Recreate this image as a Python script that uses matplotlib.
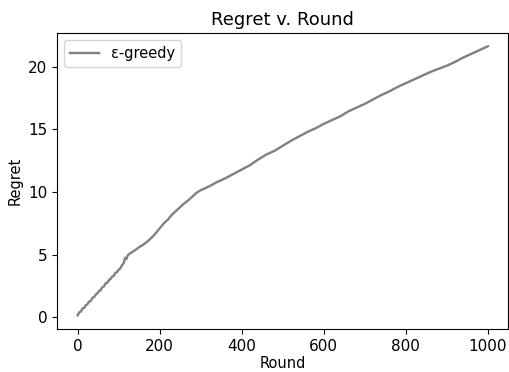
import matplotlib
matplotlib.use('Agg')
import matplotlib.pyplot as plt

rounds = [0, 4, 8, 12, 16, 20, 24, 28, 32, 36, 40, 44, 48, 52, 56, 60, 64, 68, 72, 76,
          80, 84, 88, 92, 96, 100, 104, 108, 112, 116, 119, 122, 130, 140, 150, 160, 170, 180, 190, 200, 210, 220,
          230, 240, 250, 260, 270, 280, 290, 300, 310, 320, 340, 360, 380, 400, 420, 440,
          460, 480, 500, 520, 540, 560, 580, 600, 620, 640, 660, 680, 700, 720, 740, 760,
          780, 800, 820, 840, 860, 880, 900, 920, 940, 960, 980, 1000]
regret = [0.15, 0.4, 0.45, 0.7, 0.75, 0.95, 1.05, 1.25, 1.3, 1.55, 1.6, 1.8, 1.9, 2.1, 2.15, 2.4, 2.45, 2.7, 2.75, 2.95,
          3.05, 3.25, 3.3, 3.55, 3.6, 3.8, 3.9, 4.15, 4.3, 4.75, 4.65, 4.95, 5.15, 5.35, 5.6, 5.8, 6.05, 6.35, 6.7, 7.1, 7.5, 7.8,
          8.2, 8.5, 8.8, 9.1, 9.35, 9.65, 9.95, 10.15, 10.3, 10.45, 10.8, 11.1, 11.45, 11.8, 12.15, 12.6,
          13.0, 13.3, 13.7, 14.1, 14.45, 14.8, 15.1, 15.45, 15.75, 16.05, 16.45, 16.75, 17.05, 17.4, 17.75, 18.05,
          18.4, 18.7, 19.0, 19.3, 19.6, 19.85, 20.1, 20.4, 20.75, 21.05, 21.35, 21.65]

plt.rcParams.update({
    'font.size'       : 11,
    'axes.titlesize'  : 13,
    'axes.labelsize'  : 10.5,
    'xtick.labelsize' : 11,
    'ytick.labelsize' : 11,
    'legend.fontsize' : 10.5,
})

fig = plt.figure(figsize=(5.1, 3.72), dpi=100)
ax = fig.add_axes([0.112, 0.116, 0.885, 0.795])
ax.plot(rounds, regret, color='gray', linewidth=1.7, label='ε-greedy')
ax.set_title('Regret v. Round')
ax.set_xlabel('Round', labelpad=2)
ax.set_ylabel('Regret')
ax.set_xlim(-50, 1050)
ax.set_ylim(-0.93, 22.7)
ax.legend(loc='upper left')
fig.savefig('out.png', dpi=100)
